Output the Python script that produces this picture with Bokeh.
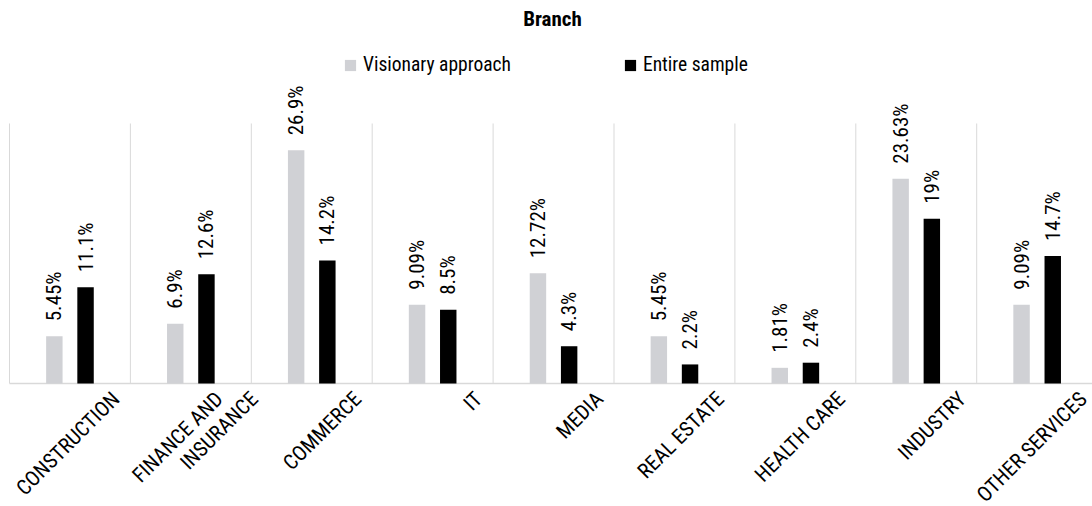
import numpy as np
from bokeh.plotting import figure
from bokeh.models import ColumnDataSource, Range1d, Legend, LegendItem, Label
from bokeh.core.properties import value
from bokeh.transform import dodge
from bokeh.embed import file_html
from bokeh.resources import INLINE

# ---------------- data ----------------
categories = ["CONSTRUCTION", "FINANCE AND\nINSURANCE", "COMMERCE", "IT", "MEDIA",
              "REAL ESTATE", "HEALTH CARE", "INDUSTRY", "OTHER SERVICES"]
visionary = [5.45, 6.9, 26.9, 9.09, 12.72, 5.45, 1.81, 23.63, 9.09]
entire = [11.1, 12.6, 14.2, 8.5, 4.3, 2.2, 2.4, 19.0, 14.7]
visionary_labels = ["5.45%", "6.9%", "26.9%", "9.09%", "12.72%", "5.45%", "1.81%", "23.63%", "9.09%"]
entire_labels = ["11.1%", "12.6%", "14.2%", "8.5%", "4.3%", "2.2%", "2.4%", "19%", "14.7%"]
series_names = ["Visionary approach", "Entire sample"]
title_text = "Branch"
y_axis_max = 30

# ---------------- layout / style ----------------
W, H = 1092, 506
CAT_PX = 120.9
LEFT_PX = 9
BASE_PX = 383
PX_PER_UNIT = 8.667
FONT = "Roboto Condensed"
GRAY = "#d0d1d5"
GRID = "#d9d9d9"

n = len(categories)
centers = np.arange(n) + 0.5

x_range = Range1d(-LEFT_PX / CAT_PX, (W - LEFT_PX) / CAT_PX)
y_range = Range1d(-(H - BASE_PX) / PX_PER_UNIT, BASE_PX / PX_PER_UNIT)

p = figure(width=W, height=H, x_range=x_range, y_range=y_range,
           output_backend="svg", toolbar_location=None, title=None,
           x_axis_location=None, y_axis_location=None, min_border=0)
p.outline_line_color = None
p.grid.visible = False
p.background_fill_color = "white"
p.border_fill_color = "white"

bounds = np.arange(n + 1)
p.segment(x0=bounds, y0=0, x1=bounds, y1=y_axis_max, line_color=GRID, line_width=1)
p.segment(x0=[0], y0=[0], x1=[n], y1=[0], line_color=GRID, line_width=1.5)

src = ColumnDataSource(dict(x=centers, vis=visionary, ent=entire,
                            vl=visionary_labels, el=entire_labels))
BW = 0.136
OFF = 0.129
r1 = p.vbar(x=dodge("x", -OFF), top="vis", width=BW, source=src,
            fill_color=GRAY, line_color=None)
r2 = p.vbar(x=dodge("x", OFF), top="ent", width=BW, source=src,
            fill_color="black", line_color=None)

lbl_kw = dict(angle=np.pi / 2, text_align="left", text_baseline="middle",
              y_offset=-15, text_font=value(FONT), text_font_size="21px",
              text_color="black")
p.text(x=dodge("x", -OFF), y="vis", text="vl", source=src, **lbl_kw)
p.text(x=dodge("x", OFF), y="ent", text="el", source=src, **lbl_kw)

lx, lt, lk = [], [], []
for i, c in enumerate(categories):
    lines = c.split("\n")
    for k, line in enumerate(lines):
        lx.append(centers[i])
        lt.append(line)
        lk.append(k - (len(lines) - 1) / 2)
lk = np.array(lk)
csrc = ColumnDataSource(dict(x=lx, y=[0] * len(lx), t=lt,
                             xo=46 + lk * 35, yo=np.full(len(lx), 12.0)))
p.text(x="x", y="y", text="t", source=csrc, angle=np.pi / 4,
       text_align="right", text_baseline="alphabetic",
       x_offset="xo", y_offset="yo", text_font=value(FONT),
       text_font_size="21px", text_color="black")

legend = Legend(items=[LegendItem(label=series_names[0], renderers=[r1]),
                       LegendItem(label=series_names[1], renderers=[r2])],
                orientation="horizontal", location=(343, 430),
                glyph_width=14, glyph_height=14, label_height=14,
                label_standoff=6, spacing=112, padding=0, margin=0,
                border_line_color=None, background_fill_alpha=0,
                label_text_font=FONT, label_text_font_size="19.5px",
                label_text_color="black")
p.add_layout(legend)

p.add_layout(Label(x=552, y=H - 18, x_units="screen", y_units="screen",
                   text=title_text, text_align="center", text_baseline="alphabetic",
                   text_font=FONT, text_font_size="21px", text_font_style="bold",
                   text_color="black"))

open("out.html", "w").write(file_html(p, INLINE))
